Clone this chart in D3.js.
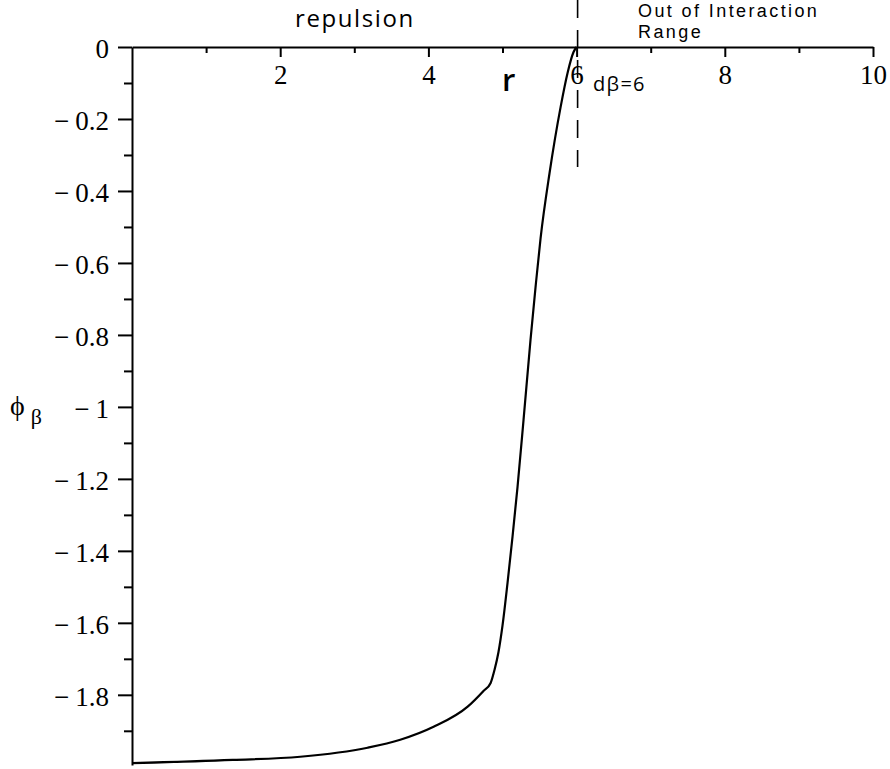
<!DOCTYPE html>
<html>
<head>
<meta charset="utf-8">
<script src="https://cdn.jsdelivr.net/npm/d3@7"></script>
<style>
  html, body { margin: 0; padding: 0; background: #fff; }
  svg { display: block; }
  .ann { font-family: "Open Sans", "Lato", sans-serif; fill: #000; }
  .ann2 { font-family: "Liberation Sans", Arial, sans-serif; fill: #000; }
</style>
</head>
<body>
<svg id="chart" width="890" height="769"></svg>
<script>
// Potential phi_beta(r): flat repulsive well, sharp knee, steep rise to zero at r = d_beta.
const rValues   = [0.0, 1.36, 2.27, 3.18, 3.62, 4.07, 4.53, 4.74, 4.84, 4.892, 4.946, 5.0, 5.068, 5.135, 5.203, 5.284, 5.378, 5.446, 5.514, 5.635, 5.784, 5.878, 5.959, 6.0];
const phiValues = [-1.99, -1.981, -1.972, -1.947, -1.925, -1.889, -1.833, -1.79, -1.767, -1.731, -1.681, -1.608, -1.489, -1.361, -1.222, -1.036, -0.814, -0.667, -0.531, -0.35, -0.167, -0.072, -0.014, 0.0];

const xMajorTicks = [2, 4, 6, 8, 10];
const xMinorTicks = [1, 3, 5, 7, 9];
const yMajorTicks = [0, -0.2, -0.4, -0.6, -0.8, -1, -1.2, -1.4, -1.6, -1.8];
const yMinorTicks = [-0.1, -0.3, -0.5, -0.7, -0.9, -1.1, -1.3, -1.5, -1.7, -1.9];
const yTickLabels = ["0", "−0.2", "−0.4", "−0.6", "−0.8", "−1", "−1.2", "−1.4", "−1.6", "−1.8"];
const dBeta = 6;

const svg = d3.select("#chart");
const x = d3.scaleLinear().domain([0, 10]).range([132, 873]);
const y = d3.scaleLinear().domain([-1.995, 0]).range([765, 47]);

const tickFont = sel => sel.attr("font-family", "'Liberation Serif', 'Times New Roman', serif")
  .attr("font-size", 27).attr("fill", "#000");

// y axis (left), major + minor ticks
const yAxis = d3.axisLeft(y).tickValues(yMajorTicks).tickSize(14).tickSizeOuter(0).tickPadding(9)
  .tickFormat((d, i) => yTickLabels[i]);
const gy = svg.append("g").attr("transform", `translate(${x(0)},0)`).call(yAxis);
gy.selectAll(".tick text").call(tickFont).attr("dy", "0.38em").each(function() {
  const t = d3.select(this);
  const s = t.text();
  if (s.startsWith("−")) {
    t.text(null);
    t.append("tspan").text("−");
    t.append("tspan").attr("dx", 6).text(s.slice(1));
  }
});
svg.append("g").attr("transform", `translate(${x(0)},0)`)
  .call(d3.axisLeft(y).tickValues(yMinorTicks).tickSize(8).tickSizeOuter(0).tickFormat(""))
  .select(".domain").remove();

// x axis along phi = 0, ticks pointing down into the plot
const gx = svg.append("g").attr("transform", `translate(0,${y(0)})`)
  .call(d3.axisBottom(x).tickValues(xMajorTicks).tickSize(10).tickSizeOuter(0).tickPadding(8).tickFormat(d3.format("d")));
gx.selectAll(".tick text").call(tickFont);
svg.append("g").attr("transform", `translate(0,${y(0)})`)
  .call(d3.axisBottom(x).tickValues(xMinorTicks).tickSize(6).tickSizeOuter(0).tickFormat(""))
  .select(".domain").remove();

svg.selectAll(".domain, .tick line").attr("stroke", "#000").attr("stroke-width", 2);

// curve
const line = d3.line().x((d, i) => x(rValues[i])).y(d => y(d)).curve(d3.curveMonotoneX);
svg.append("path").datum(phiValues)
  .attr("d", line).attr("fill", "none").attr("stroke", "#000").attr("stroke-width", 2.2);

// interaction cutoff at r = d_beta
svg.append("line")
  .attr("x1", x(dBeta) + 1).attr("x2", x(dBeta) + 1)
  .attr("y1", 0).attr("y2", 167)
  .attr("stroke", "#000").attr("stroke-width", 1.6).attr("stroke-dasharray", "18,12");

// annotations
svg.append("text").attr("class", "ann").attr("x", 295).attr("y", 27)
  .attr("font-size", 24).attr("letter-spacing", 1.6).text("repulsion");
svg.append("text").attr("class", "ann2").attr("x", 638).attr("y", 17)
  .attr("font-size", 18).attr("letter-spacing", 2.4).text("Out of Interaction");
svg.append("text").attr("class", "ann2").attr("x", 638).attr("y", 38)
  .attr("font-size", 18).attr("letter-spacing", 2.4).text("Range");
svg.append("text").attr("class", "ann").attr("x", 593).attr("y", 91)
  .attr("font-size", 20).attr("letter-spacing", 1.3).text("dβ=6");
svg.append("text").attr("class", "ann").attr("x", 502).attr("y", 91)
  .attr("font-size", 31).attr("font-weight", 600).text("r");

// y label phi_beta
const yl = svg.append("text").attr("x", 10).attr("y", 415)
  .attr("font-family", "'Liberation Serif', serif").attr("font-size", 28);
yl.append("tspan").text("ϕ");
yl.append("tspan").attr("dx", 6).attr("dy", 9).attr("font-size", 22).text("β");
</script>
</body>
</html>
